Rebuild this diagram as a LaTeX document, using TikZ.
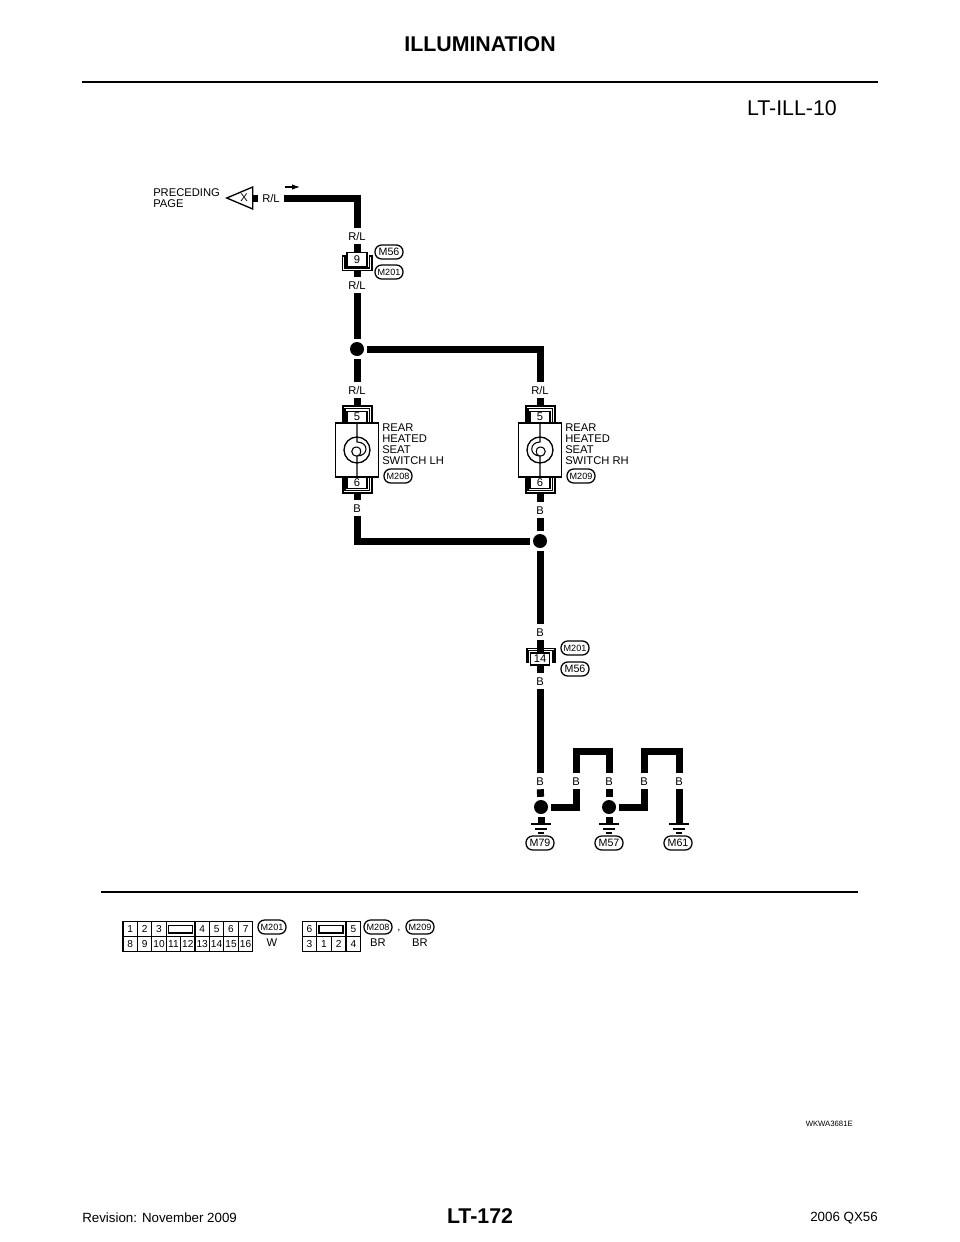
\documentclass[tikz,border=0pt]{standalone}
\usepackage{fontspec}
\setmainfont{Liberation Sans}
\usetikzlibrary{shapes.geometric,arrows.meta}
\newcommand{\labelfont}{\fontsize{8.4}{8.25}\selectfont}

\begin{document}
\begin{tikzpicture}[x=0.75pt,y=-0.75pt,line join=miter]
  \tikzstyle{wire}=[line width=5.25pt]
  \tikzstyle{hair}=[line width=0.8pt]
  \tikzstyle{wlabel}=[font=\labelfont,text height=6pt,text depth=0pt,inner xsep=3pt,inner ysep=3pt]
  \tikzstyle{txt}=[font=\labelfont,align=left,anchor=west,inner sep=0pt]
  \tikzstyle{dot}=[circle,fill=black,minimum size=10.5pt,inner sep=0pt,outer sep=2.4pt]
  \tikzstyle{pin}=[rectangle,draw=black,hair,font=\labelfont,minimum height=8.5pt,minimum width=15pt,inner sep=0pt]
  \tikzstyle{pill}=[rectangle,draw=black,line width=0.95pt,rounded corners=5pt,font=\fontsize{8}{8}\selectfont,minimum width=21pt,minimum height=10.5pt,inner sep=0pt]
  \tikzstyle{pills}=[pill,font=\fontsize{6.8}{7}\selectfont]
  \tikzstyle{cell}=[rectangle,draw=black,hair,font=\fontsize{7.6}{8}\selectfont,minimum height=10.9pt,minimum width=10.8pt,inner sep=0pt]
  \tikzstyle{wcell}=[cell,minimum width=11pt]
  \tikzstyle{lamp}=[circle,draw=black,line width=1pt,minimum size=19.5pt,inner sep=0pt]
  \tikzstyle{body}=[rectangle,draw=black,line width=1pt,minimum width=32.5pt,minimum height=40.5pt,inner sep=0pt]
  \tikzstyle{slotkey}=[rectangle,draw=black,line width=1.1pt,minimum width=18pt,minimum height=5.5pt,inner sep=0pt]

  \useasboundingbox (0,0) rectangle (960,1242);

  % page head and foot
  \node[font=\bfseries\fontsize{16}{16}\selectfont] (title) at (480,44) {ILLUMINATION};
  \draw[line width=2.2pt] (82,82) -- (878,82);
  \node[font=\fontsize{16}{16}\selectfont,anchor=east,inner sep=0pt] (code) at (837,108) {LT-ILL-10};
  \draw[line width=1.5pt] (101,892) -- (858,892);
  \node[font=\fontsize{5.8}{6}\selectfont,anchor=east,inner sep=0pt] (ref) at (853,1124) {WKWA3681E};
  \node[font=\bfseries\fontsize{16}{16}\selectfont] (page) at (480,1216) {LT-172};
  \node[font=\fontsize{10}{10}\selectfont,anchor=west,inner sep=0pt] (rev) at (82,1218) {Revision: November 2009};
  \node[font=\fontsize{10}{10}\selectfont,anchor=east,inner sep=0pt] (model) at (878,1218) {2006 QX56};

  % off page connector
  \node[txt] (prec) at (153,198) {PRECEDING\\PAGE};
  \node[isosceles triangle,shape border rotate=180,isosceles triangle stretches,draw=black,line width=1pt,
        minimum width=16.5pt,minimum height=19.5pt,inner sep=0pt,anchor=apex] (tri) at (225,198) {};
  \node[font=\labelfont,inner sep=0pt] (xmark) at (244,198) {X};
  \node[wlabel] (rlT) at (271,198) {R/L};
  \draw[wire] (tri.east) -- (rlT);
  \node[inner sep=0pt] (flowS) at (284,187) {};
  \node[inner sep=0pt] (flowE) at (301,187) {};
  \draw[-{Latex[length=6pt,width=4pt]},line width=0.8pt] (flowS) -- (flowE);

  % connector 9
  \node[wlabel] (rlA) at (357,236) {R/L};
  \node[pin,minimum height=11pt] (pin9) at (357,259.5) {9};
  \node[wlabel] (rlB) at (357,285) {R/L};
  \coordinate (cup9) at (357,271);
  \node[pill] (m56a) at (389,252) {M56};
  \node[pills] (m201a) at (389,272) {M201};
  \draw[wire] (rlT) -| (rlA);
  \draw[wire] (rlA) -- (pin9);
  \draw[wire] (cup9) -- (rlB);
  \draw[hair] (345,256) -- (342.5,256) |- (372,270.5) -- (372,256) -- (369.5,256) |- (345,268) -- cycle;

  % split to both switches
  \node[dot] (dotA) at (357,349) {};
  \node[wlabel] (rlC) at (357,390) {R/L};
  \node[wlabel] (rlD) at (540,390) {R/L};
  \draw[wire] (rlB) -- (dotA);
  \draw[wire] (dotA) -- (rlC);
  \draw[wire] (dotA) -| (rlD);

  % switch LH
  \node[body] (swL) at (357,450) {};
  \node[pin] (pin5L) at (357,417) {5};
  \node[pin] (pin6L) at (357,483) {6};
  \node[wlabel] (bL) at (357,508) {B};
  \coordinate (capL) at (357,406);
  \coordinate (cupL) at (357,493);
  \draw[wire] (rlC) -- (capL);
  \draw[wire] (cupL) -- (bL);
  \draw[hair] (343,423) |- (372,406) -- (372,423) (369.5,423) |- (345,408.5) -- (345,423);
  \draw[hair] (343,477) |- (372,493) -- (372,477) (369.5,477) |- (345,490.5) -- (345,477);
  \node[lamp] (lampL) at (357,450) {};
  \draw[hair] (pin5L) -- (357,442) .. controls (369,442) and (369,456) .. (357,456) .. controls (350,456) and (350,447) .. (357,447) .. controls (362,447) and (362,456) .. (357,456) -- (pin6L);
  \node[txt] (nameL) at (382,444) {REAR\\HEATED\\SEAT\\SWITCH LH};
  \node[pills] (m208) at (398,476) {M208};

  % switch RH
  \node[body] (swR) at (540,450) {};
  \node[pin] (pin5R) at (540,417) {5};
  \node[pin] (pin6R) at (540,483) {6};
  \node[wlabel] (bR) at (540,510) {B};
  \coordinate (capR) at (540,406);
  \coordinate (cupR) at (540,493);
  \draw[wire] (rlD) -- (capR);
  \draw[wire] (cupR) -- (bR);
  \draw[hair] (526,423) |- (555,406) -- (555,423) (552.5,423) |- (528,408.5) -- (528,423);
  \draw[hair] (526,477) |- (555,493) -- (555,477) (552.5,477) |- (528,490.5) -- (528,477);
  \node[lamp] (lampR) at (540,450) {};
  \draw[hair] (pin5R) -- (540,442) .. controls (529,442) and (529,456) .. (540,456) .. controls (547,456) and (547,447) .. (540,447) .. controls (535,447) and (535,456) .. (540,456) -- (pin6R);
  \node[txt] (nameR) at (565,444) {REAR\\HEATED\\SEAT\\SWITCH RH};
  \node[pills] (m209) at (581,476) {M209};

  % join of the grounds
  \node[dot] (dotB) at (540,541) {};
  \draw[wire] (bL) |- (dotB);
  \draw[wire] (bR) -- (dotB);

  % connector 14
  \node[wlabel] (bS) at (540,632) {B};
  \node[pin,line width=1.1pt,minimum width=14.5pt,minimum height=9pt] (pin14) at (540,659) {14};
  \node[wlabel] (bP) at (540,681) {B};
  \node[pills] (m201b) at (575,648) {M201};
  \node[pill] (m56b) at (575,669) {M56};
  \draw[wire] (dotB) -- (bS);
  \draw[wire] (bS) -- (pin14);
  \draw[wire] (pin14) -- (bP);
  \draw[hair] (527,663) |- (555,648.5) -- (555,663);
  \draw[hair] (528.8,663) |- (553,650.8) -- (553,663);

  % grounds
  \node[wlabel] (bG1) at (540,781) {B};
  \node[wlabel] (bG2) at (576,781) {B};
  \node[wlabel] (bG3) at (609,781) {B};
  \node[wlabel] (bG4) at (644,781) {B};
  \node[wlabel] (bG5) at (679,781) {B};
  \node[dot] (dotC) at (541,807) {};
  \node[dot] (dotD) at (609,807) {};
  \coordinate (topA) at (592,751);
  \coordinate (topB) at (661,751);
  \coordinate (gndA) at (541,824);
  \coordinate (gndB) at (609,824);
  \coordinate (gndC) at (679,824);
  \draw[wire] (bP) -- (bG1);
  \draw[wire] (bG1) -- (dotC);
  \draw[wire] (dotC) -- (gndA);
  \draw[wire] (dotC) -| (bG2);
  \draw[wire] (bG2) |- (topA) -| (bG3);
  \draw[wire] (bG3) -- (dotD);
  \draw[wire] (dotD) -- (gndB);
  \draw[wire] (dotD) -| (bG4);
  \draw[wire] (bG4) |- (topB) -| (bG5);
  \draw[wire] (bG5) -- (gndC);
  \draw[line width=1.1pt] (531,824) -- (551,824) (535,829) -- (547,829) (538,833) -- (544,833);
  \draw[line width=1.1pt] (599,824) -- (619,824) (603,829) -- (615,829) (606,833) -- (612,833);
  \draw[line width=1.1pt] (669,824) -- (689,824) (673,829) -- (685,829) (676,833) -- (682,833);
  \node[pill] (m79) at (540,843) {M79};
  \node[pill] (m57) at (609,843) {M57};
  \node[pill] (m61) at (678,843) {M61};

  % connector faces
  \node[cell] (a1) at (130.2,929.2) {1};
  \node[cell] (a2) at (144.6,929.2) {2};
  \node[cell] (a3) at (159,929.2) {3};
  \node[cell,minimum width=21.8pt] (aslot) at (180.6,929.2) {};
  \node[cell] (a4) at (202.2,929.2) {4};
  \node[cell] (a5) at (216.6,929.2) {5};
  \node[cell] (a6) at (231,929.2) {6};
  \node[cell] (a7) at (245.6,929.2) {7};
  \node[cell] (a8) at (130.2,943.8) {8};
  \node[cell] (a9) at (144.6,943.8) {9};
  \node[cell] (a10) at (159,943.8) {10};
  \node[cell] (a11) at (173.4,943.8) {11};
  \node[cell] (a12) at (187.8,943.8) {12};
  \node[cell] (a13) at (202.2,943.8) {13};
  \node[cell] (a14) at (216.6,943.8) {14};
  \node[cell] (a15) at (231,943.8) {15};
  \node[cell] (a16) at (245.6,943.8) {16};
  \node[slotkey] (akey) at (180.6,929.2) {};
  \node[pills] (m201c) at (272,927) {M201};
  \node[font=\labelfont,inner sep=0pt] (wcol) at (272,943) {W};

  \node[wcell] (b6) at (309.4,929.2) {6};
  \node[wcell,minimum width=21.8pt] (bslot) at (331.2,929.2) {};
  \node[wcell] (b5) at (353.4,929.2) {5};
  \node[wcell] (b3) at (309.4,943.8) {3};
  \node[wcell] (b1) at (324,943.8) {1};
  \node[wcell] (b2) at (338.6,943.8) {2};
  \node[wcell] (b4) at (353.4,943.8) {4};
  \node[slotkey] (bkey) at (331.2,929.2) {};
  \node[pills] (m208b) at (378,927) {M208};
  \node[font=\labelfont,inner sep=0pt] (comma) at (399,931) {,};
  \node[pills] (m209b) at (420,927) {M209};
  \node[font=\labelfont,inner sep=0pt] (brA) at (378,943) {BR};
  \node[font=\labelfont,inner sep=0pt] (brB) at (420,943) {BR};
\end{tikzpicture}
\end{document}
